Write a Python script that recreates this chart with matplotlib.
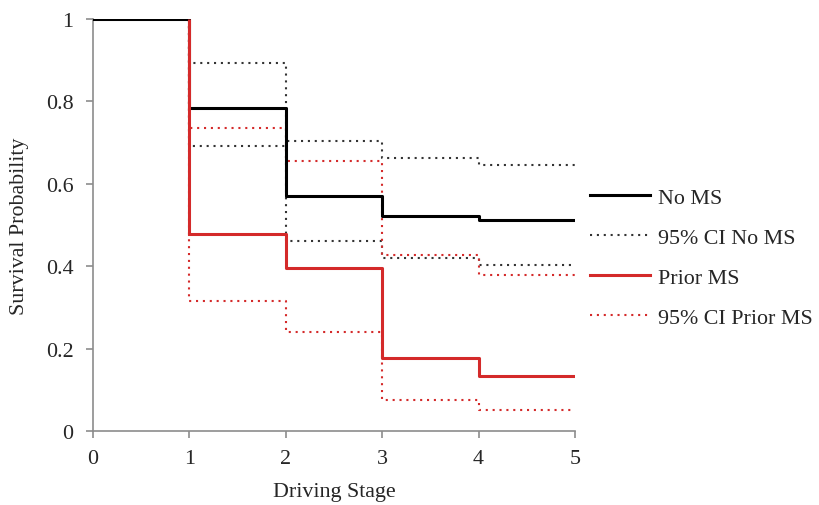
import matplotlib.pyplot as plt

# Driving stage boundaries
stages = [0, 1, 2, 3, 4, 5]

# Survival probability per interval (0-1, 1-2, 2-3, 3-4, 4-5)
no_ms = [1.0, 0.785, 0.570, 0.523, 0.512]
no_ms_upper = [1.0, 0.893, 0.704, 0.663, 0.646]
no_ms_lower = [1.0, 0.692, 0.461, 0.420, 0.403]

prior_ms = [1.0, 0.478, 0.396, 0.177, 0.133]
prior_ms_upper = [1.0, 0.735, 0.655, 0.427, 0.379]
prior_ms_lower = [1.0, 0.316, 0.240, 0.075, 0.051]

plt.rcParams['font.family'] = ['Liberation Serif', 'DejaVu Serif']

red = '#d42a2a'
dot = (0, (1, 2.3))
fs = 15.8

fig = plt.figure(figsize=(8.2, 5.06), dpi=100)
ax = fig.add_axes([0.1134, 0.1462, 0.5878, 0.8143])


def step(vals, **kw):
    return ax.step(stages, vals + [vals[-1]], where='post', **kw)


step(no_ms_upper, color='#333333', lw=1.5, linestyle=dot, label='95% CI No MS')
step(no_ms_lower, color='#333333', lw=1.5, linestyle=dot)
step(prior_ms_upper, color=red, lw=1.5, linestyle=dot, label='95% CI Prior MS')
step(prior_ms_lower, color=red, lw=1.5, linestyle=dot)
step(no_ms, color='black', lw=2.2, label='No MS', zorder=3)
# Prior MS drawn from the first drop on, above the black line
ax.step(stages[1:], prior_ms[1:] + [prior_ms[-1]], where='post',
        color=red, lw=2.2, label='Prior MS', zorder=4)
ax.vlines(stages[1], prior_ms[1], prior_ms[0], color=red, lw=2.2, zorder=4)

ax.set_xlim(0, 5)
ax.set_ylim(0, 1)
ax.set_xticks(stages)
ax.set_yticks([0, 0.2, 0.4, 0.6, 0.8, 1])
ax.set_yticklabels(['0', '0.2', '0.4', '0.6', '0.8', '1'])

for s in ['top', 'right']:
    ax.spines[s].set_visible(False)
for s in ['left', 'bottom']:
    ax.spines[s].set_color('#8c8c8c')
    ax.spines[s].set_linewidth(1.2)
ax.tick_params(colors='#8c8c8c', labelcolor='#262626', labelsize=fs,
               length=5, width=1.2)
ax.tick_params(axis='y', pad=9)
ax.tick_params(axis='x', pad=8)

ax.set_xlabel('Driving Stage', fontsize=fs, color='#262626', labelpad=10)
ax.set_ylabel('Survival Probability', fontsize=fs, color='#262626', labelpad=12)

handles, labels = ax.get_legend_handles_labels()
order = ['No MS', '95% CI No MS', 'Prior MS', '95% CI Prior MS']
hmap = dict(zip(labels, handles))
fig.legend([hmap[k] for k in order], order, loc='upper left',
           bbox_to_anchor=(0.7195, 0.628), frameon=False, fontsize=fs,
           handlelength=2.75, handletextpad=0.35, labelspacing=0.9,
           borderpad=0, borderaxespad=0, labelcolor='#262626')

fig.savefig('out.png', dpi=100)
